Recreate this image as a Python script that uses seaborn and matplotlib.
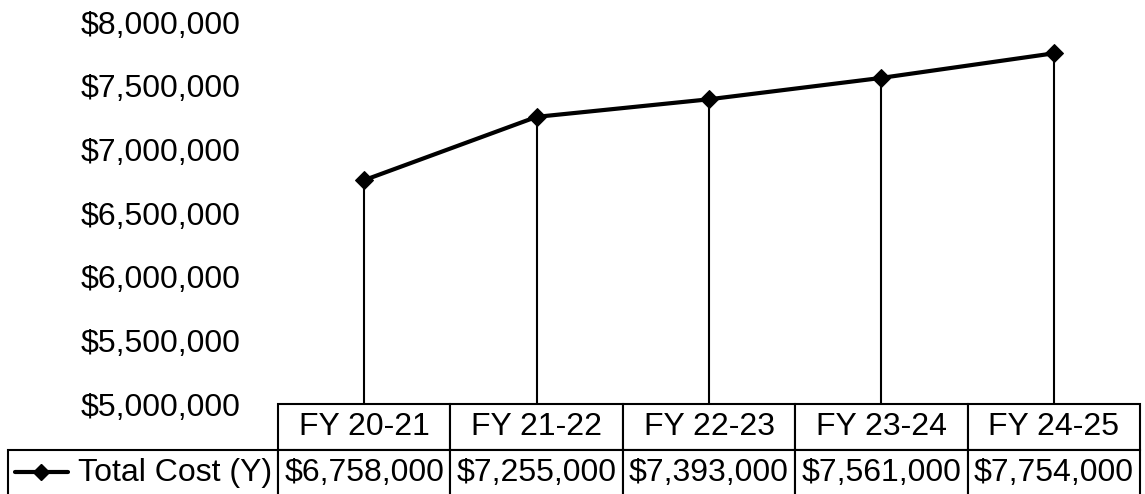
import pandas as pd
import seaborn as sns
import matplotlib.pyplot as plt
import matplotlib.ticker as mticker

# data
years = ['FY 20-21', 'FY 21-22', 'FY 22-23', 'FY 23-24', 'FY 24-25']
total_cost = [6758000, 7255000, 7393000, 7561000, 7754000]
series_name = 'Total Cost (Y)'
y_ticks = [5000000, 5500000, 6000000, 6500000, 7000000, 7500000, 8000000]

sns.set_style('white')
plt.rcParams['font.family'] = ['Liberation Sans', 'DejaVu Sans']
plt.rcParams['text.color'] = 'black'
plt.rcParams['ytick.color'] = 'black'

df = pd.DataFrame({'year': years, 'cost': total_cost})
df['pos'] = range(len(years))

fig = plt.figure(figsize=(11.45, 4.94), dpi=100)
W, H = 1145, 494
ax = fig.add_axes([278 / W, 1 - 404 / H, (1140 - 278) / W, (404 - 22) / H])

# drop lines first, then the line with diamonds
ax.vlines(df['pos'], y_ticks[0], df['cost'], color='black', lw=1.5, zorder=1)
sns.lineplot(data=df, x='pos', y='cost', ax=ax, color='black', lw=3,
             marker='D', markersize=9, markeredgecolor='black', zorder=2)

ax.set_xlim(-0.5, len(years) - 0.5)
ax.set_ylim(y_ticks[0], y_ticks[-1])
ax.set_yticks(y_ticks)
ax.yaxis.set_major_formatter(mticker.FuncFormatter(lambda v, p: '${:,.0f}'.format(v)))
ax.tick_params(axis='y', length=0, pad=27, labelsize=23, labelcolor='black')
ax.set_xticks([])
ax.set_xlabel('');ax.set_ylabel('')
for s in ax.spines.values():
    s.set_visible(False)

# data table under the chart
cell_text = [[''] + years,
             [series_name] + ['${:,.0f}'.format(v) for v in total_cost]]
lw_px = 270.0; cw_px = (1140 - 278) / 5.0
tot = lw_px + 5 * cw_px
col_w = [lw_px / tot] + [cw_px / tot] * 5
x0 = (8 - 278) / 862.0
tbl = ax.table(cellText=cell_text, colWidths=col_w, cellLoc='center',
               bbox=[x0, -92 / 382.0, 1 - x0, 92 / 382.0])
tbl.auto_set_font_size(False)
tbl.set_fontsize(23)
for (r, c), cell in tbl.get_celld().items():
    cell.set_linewidth(1.5)
    cell.set_edgecolor('black')
    cell.get_text().set_color('black')
tbl[0, 0].visible_edges = ''
tbl[1, 0].get_text().set_ha('right')
tbl[1, 0]._loc = 'right'
tbl[1, 0].PAD = 0.02

# legend key in the row label cell
ax.plot([(15 - 278) / 862.0, (68 - 278) / 862.0], [(404 - 472) / 382.0] * 2,
        transform=ax.transAxes, clip_on=False, color='black', lw=3)
ax.plot([(41 - 278) / 862.0], [(404 - 472) / 382.0], transform=ax.transAxes,
        clip_on=False, color='black', marker='D', markersize=8)

plt.savefig('out.png', dpi=100)
